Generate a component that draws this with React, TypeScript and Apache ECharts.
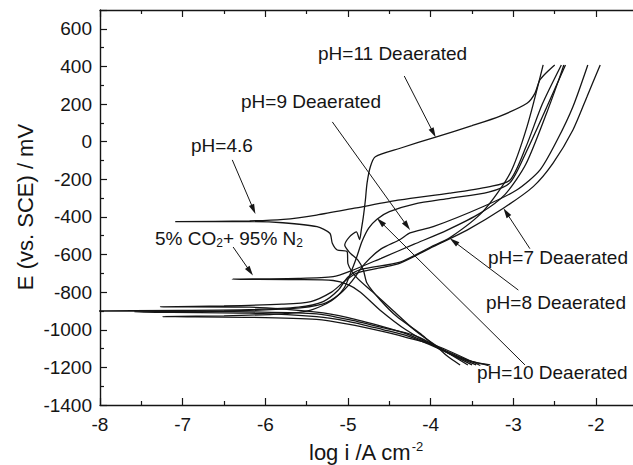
import React, { useEffect, useRef } from "react";
import * as echarts from "echarts";

type P = [number, number];

const xRange: P = [-8, -1.5];
const yRange: P = [-1400, 700];

const curvePH7: P[] = [
  [-3.28, -1187], [-3.5, -1170], [-3.93, -1090], [-4.3, -1020], [-4.57, -984], [-5.0, -935], [-5.38, -906], [-6.19, -880], [-7.27, -878],
  [-6.5, -873], [-5.8, -864], [-5.45, -850], [-5.2, -800], [-5.05, -745], [-4.9, -700], [-4.6, -670], [-4.37, -646], [-3.97, -558],
  [-3.56, -470], [-3.122, -354], [-2.76, -239], [-2.52, -114], [-2.28, 62], [-2.11, 239], [-1.95, 408],
];
const curvePH8: P[] = [
  [-3.645, -1187], [-3.8, -1140], [-3.93, -1090], [-4.2, -1030], [-4.57, -990], [-5.0, -945], [-5.38, -915], [-6.19, -905], [-7, -901],
  [-8.3, -900],
  [-7, -897], [-6.19, -893], [-5.6, -880], [-5.3, -850], [-5.12, -790], [-5.0, -720], [-4.85, -680], [-4.37, -640], [-4.0, -560],
  [-3.766, -510], [-3.37, -372], [-3.04, -168], [-2.835, 80], [-2.64, 408],
];
const curvePH9: P[] = [
  [-3.5, -1187], [-3.93, -1095], [-4.3, -1030], [-4.57, -1000], [-5.0, -955], [-5.38, -930], [-6.19, -912], [-7.58, -905],
  [-6.5, -900], [-5.7, -888], [-5.3, -862], [-5.1, -810], [-4.95, -740], [-4.8, -650], [-4.6, -570], [-4.37, -520], [-4.25, -485],
  [-3.97, -452], [-3.37, -346], [-2.96, -257], [-2.68, -151], [-2.47, 9], [-2.28, 186], [-2.1, 408],
];
const curvePH10: P[] = [
  [-3.4, -1190], [-3.93, -1085], [-4.3, -1040], [-4.57, -1010], [-5.0, -970], [-5.38, -945], [-6.19, -934], [-7.24, -930],
  [-6.5, -926], [-5.8, -915], [-5.45, -895], [-5.2, -845], [-5.05, -780], [-4.97, -700], [-4.9, -620], [-4.83, -530], [-4.75, -460],
  [-4.65, -412], [-4.5, -372], [-4.2, -332], [-3.77, -301], [-3.3, -268], [-3.04, -218], [-2.85, -60], [-2.6, 180], [-2.37, 408],
];
const curvePH11: P[] = [
  [-3.3, -1190], [-3.65, -1150], [-3.93, -1090], [-4.13, -1019], [-4.41, -930], [-4.61, -842], [-4.77, -753], [-4.815, -682],
  [-4.88, -630], [-4.98, -590], [-5.04, -550], [-4.98, -505], [-4.9, -480], [-4.86, -520], [-4.84, -470], [-4.815, -400],
  [-4.79, -310], [-4.77, -220], [-4.73, -133], [-4.67, -80], [-4.37, -35], [-3.93, 26], [-3.5, 85], [-3.16, 136], [-2.835, 204],
  [-2.74, 257], [-2.68, 328], [-2.59, 372], [-2.5, 408],
];
const curvePH46: P[] = [
  [-3.55, -1187], [-3.93, -1085], [-4.2, -1000], [-4.45, -900], [-4.7, -800], [-4.9, -720], [-5.0, -650], [-5.01, -585], [-5.13, -576],
  [-5.19, -540], [-5.22, -487], [-5.375, -452], [-5.79, -431], [-6.19, -425], [-7.09, -425],
  [-6.19, -421], [-5.78, -413], [-5.38, -390], [-4.9, -352], [-4.37, -310], [-3.77, -274], [-3.3, -240], [-3.04, -204], [-2.85, -30],
  [-2.65, 200], [-2.42, 408],
];
const curveCO2: P[] = [
  [-3.45, -1187], [-3.93, -1092], [-4.3, -1000], [-4.6, -900], [-4.85, -800], [-5.0, -760], [-5.18, -738], [-5.6, -733], [-6.4, -731],
  [-5.6, -727], [-5.18, -718], [-4.98, -690], [-4.6, -620], [-4.2, -545], [-3.8, -470], [-3.4, -380], [-3.1, -280], [-2.85, -120],
  [-2.6, 150], [-2.45, 330], [-2.39, 408],
];

const curves: P[][] = [curvePH7, curvePH8, curvePH9, curvePH10, curvePH11, curvePH46, curveCO2];

// annotation arrows in data coordinates: [from, to(tip)]
const arrowPH11: P[] = [[-4.32, 349], [-3.94, 23]];
const arrowPH9: P[] = [[-5.19, 105], [-4.25, -470]];
const arrowPH46: P[] = [[-6.4, -97], [-6.12, -385]];
const arrowCO2: P[] = [[-6.39, -560], [-6.15, -712]];
const arrowPH7: P[] = [[-2.8, -569], [-3.12, -354]];
const arrowPH8: P[] = [[-2.94, -789], [-3.77, -514]];
const arrowPH10: P[] = [[-2.86, -1187], [-4.65, -407]];
const arrows: P[][] = [arrowPH11, arrowPH9, arrowPH46, arrowCO2, arrowPH7, arrowPH8, arrowPH10];

const FONT = "'Liberation Sans', Arial, Helvetica, sans-serif";
const INK = "#151515";

export default function App() {
  const ref = useRef<HTMLDivElement>(null);
  useEffect(() => {
    if (!ref.current) return;
    const chart = echarts.init(ref.current, undefined, { renderer: "svg" });
    const axisCommon = {
      type: "value" as const,
      axisLine: { show: true, onZero: false, lineStyle: { color: INK, width: 1.4 } },
      axisTick: { show: true, inside: true, length: 7, lineStyle: { color: INK, width: 1.2 } },
      minorTick: { show: true, splitNumber: 2, length: 4, lineStyle: { color: INK, width: 1.2 } },
      splitLine: { show: false },
    };
    const intLabel = (v: number) => (Number.isInteger(v) ? String(v) : "");
    chart.setOption({
      animation: false,
      backgroundColor: "#fff",
      grid: { left: 100, top: 10, width: 537.4, height: 395, containLabel: false, outerBoundsMode: "none" },
      xAxis: [
        {
          ...axisCommon,
          position: "bottom",
          min: xRange[0],
          max: xRange[1],
          interval: 1,
          axisLabel: { color: INK, fontSize: 19, fontFamily: FONT, margin: 10, formatter: intLabel },
        },
        {
          ...axisCommon,
          position: "top",
          min: xRange[0],
          max: xRange[1],
          interval: 1,
          axisLabel: { show: false },
        },
      ],
      yAxis: [
        {
          ...axisCommon,
          position: "left",
          min: yRange[0],
          max: yRange[1],
          interval: 200,
          axisLabel: {
            color: INK,
            fontSize: 19,
            fontFamily: FONT,
            margin: 8,
            formatter: (v: number) => (v > 600 ? "" : String(v)),
          },
        },
      ],
      series: curves.map((c) => ({
        type: "line",
        data: c,
        showSymbol: false,
        symbol: "none",
        smooth: 0.25,
        clip: true,
        lineStyle: { color: INK, width: 1.3 },
        silent: true,
      })),
    });

    const gfx: any[] = [];
    arrows.forEach((a) => {
      const p0 = chart.convertToPixel({ xAxisIndex: 0, yAxisIndex: 0 }, a[0]) as number[];
      const p1 = chart.convertToPixel({ xAxisIndex: 0, yAxisIndex: 0 }, a[1]) as number[];
      const dx = p1[0] - p0[0];
      const dy = p1[1] - p0[1];
      const L = Math.hypot(dx, dy);
      const ux = dx / L;
      const uy = dy / L;
      const hl = 10;
      const hw = 2.8;
      const bx = p1[0] - ux * hl;
      const by = p1[1] - uy * hl;
      gfx.push({
        type: "line",
        shape: { x1: p0[0], y1: p0[1], x2: bx + ux * 2, y2: by + uy * 2 },
        style: { stroke: INK, lineWidth: 1 },
      });
      gfx.push({
        type: "polygon",
        shape: { points: [[p1[0], p1[1]], [bx - uy * hw, by + ux * hw], [bx + uy * hw, by - ux * hw]] },
        style: { fill: INK },
      });
    });

    const label = (text: string, x: number, y: number) => ({
      type: "text",
      x,
      y,
      style: { text, fill: INK, fontSize: 19, fontFamily: FONT, align: "left", verticalAlign: "middle" },
    });
    gfx.push(label("pH=11 Deaerated", 318, 53));
    gfx.push(label("pH=9 Deaerated", 241, 101));
    gfx.push(label("pH=4.6", 191, 145));
    gfx.push(label("pH=7 Deaerated", 488, 257));
    gfx.push(label("pH=8 Deaerated", 486, 302));
    gfx.push(label("pH=10 Deaerated", 477, 372));
    gfx.push({
      type: "text",
      x: 155,
      y: 238,
      style: {
        text: "{a|5% CO}{s|2}{a|+ 95% N}{s|2}",
        fill: INK,
        align: "left",
        verticalAlign: "middle",
        rich: {
          a: { fontSize: 19, fontFamily: FONT, fill: INK, lineHeight: 22 },
          s: { fontSize: 12, fontFamily: FONT, fill: INK, lineHeight: 12, verticalAlign: "bottom" },
        },
      },
    });
    gfx.push({
      type: "text",
      x: 25,
      y: 207,
      rotation: Math.PI / 2,
      style: { text: "E (vs. SCE) / mV", fill: INK, fontSize: 22, fontFamily: FONT, align: "center", verticalAlign: "middle" },
    });
    gfx.push({
      type: "text",
      x: 309,
      y: 452,
      style: {
        text: "{a|log i /A cm}{p|-2}",
        fill: INK,
        align: "left",
        verticalAlign: "middle",
        rich: {
          a: { fontSize: 22, fontFamily: FONT, fill: INK, lineHeight: 24 },
          p: { fontSize: 13, fontFamily: FONT, fill: INK, lineHeight: 13, verticalAlign: "top" },
        },
      },
    });
    chart.setOption({ graphic: gfx });
    return () => chart.dispose();
  }, []);
  return <div ref={ref} style={{ position: "absolute", left: 0, top: 0, width: 633, height: 465, overflow: "hidden" }} />;
}
